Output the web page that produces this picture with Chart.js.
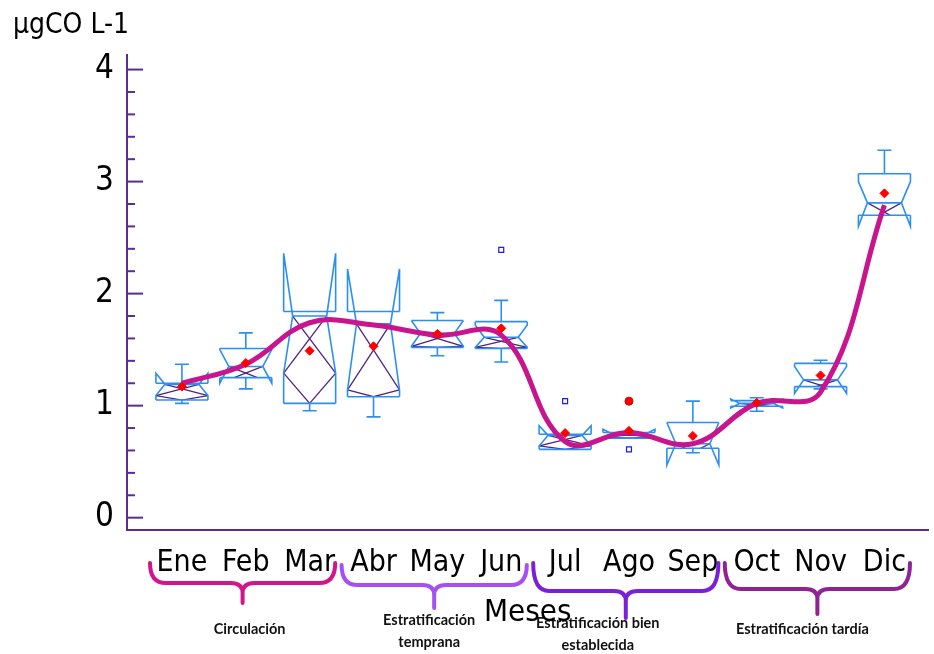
<!DOCTYPE html>
<html>
<head>
<meta charset="utf-8">
<script src="https://cdn.jsdelivr.net/npm/chart.js@4.4.0/dist/chart.umd.min.js"></script>
<style>
  html, body { margin: 0; padding: 0; background: #fff; }
  #wrap { width: 934px; height: 654px; }
</style>
</head>
<body>
<div id="wrap"><canvas id="chart" width="934" height="654"></canvas></div>
<script>
// Data
const months = ['Ene', 'Feb', 'Mar', 'Abr', 'May', 'Jun', 'Jul', 'Ago', 'Sep', 'Oct', 'Nov', 'Dic'];
const boxMin    = [1.02, 1.15, 0.955, 0.90, 1.445, 1.39, 0.61, 0.71, 0.58, 0.95, 1.15, 2.70];
const boxQ1     = [1.05, 1.25, 1.02, 1.08, 1.52, 1.51, 0.61, 0.71, 0.62, 0.995, 1.17, 2.70];
const boxMedian = [1.19, 1.35, 1.80, 1.73, 1.645, 1.61, 0.735, 0.75, 0.66, 1.02, 1.23, 2.81];
const boxQ3     = [1.20, 1.51, 1.84, 1.84, 1.76, 1.75, 0.745, 0.76, 0.85, 1.045, 1.377, 3.07];
const boxMax    = [1.37, 1.65, 1.84, 1.84, 1.83, 1.94, 0.745, 0.76, 1.04, 1.07, 1.405, 3.28];
const notchLow  = [1.09, 1.20, 1.29, 1.14, 1.53, 1.52, 0.64, 0.72, 0.47, 0.98, 1.11, 2.60];
const notchHigh = [1.29, 1.50, 2.36, 2.22, 1.76, 1.72, 0.82, 0.79, 0.85, 1.06, 1.35, 3.00];
const means     = [1.17, 1.38, 1.49, 1.53, 1.64, 1.69, 0.755, 0.775, 0.73, 1.025, 1.27, 2.895];
const trend     = [1.20, 1.37, 1.74, 1.72, 1.63, 1.63, 0.68, 0.76, 0.66, 1.02, 1.12, 2.79];

const outlierMonth = [6, 7, 8];
const outlierValue = [2.39, 1.04, 0.61];
const farOutlierMonth = [8];
const farOutlierValue = [1.04];

const yTicks = [0, 1, 2, 3, 4];
const yMinorTicks = [0.2, 0.4, 0.6, 0.8, 1.2, 1.4, 1.6, 1.8, 2.2, 2.4, 2.6, 2.8, 3.2, 3.4, 3.6, 3.8];

const seasons = ['Circulación', 'Estratificación\ntemprana', 'Estratificación bien\nestablecida', 'Estratificación tardía'];
const seasonStart = [1, 4, 7, 10];
const seasonEnd = [3, 6, 9, 12];

// Styles
const AXIS = '#5c2d91';
const BOX_BLUE = '#2b8ff2';
const CROSS = '#4e2380';
const CURVE = '#c8158e';
const braceColors = ['#d0168a', '#a64ff5', '#7b20d6', '#8f2393'];
const braceLevels = [[563, 583, 603], [565, 585, 608], [563, 591, 618], [563, 589, 614]];
const seasonTextDx = [7, -5, -28, -15];
const seasonTextY = [629, 620, 623, 629];
const NARROW = "'Liberation Sans Narrow', 'DejaVu Sans Condensed', 'Arial Narrow', sans-serif";

const BOX_HALF = 26;
const INSET = 9;
const CAP = 7;

function line(ctx, x1, y1, x2, y2) {
    ctx.beginPath();
    ctx.moveTo(x1, y1);
    ctx.lineTo(x2, y2);
    ctx.stroke();
}

// Notched boxes, drawn under the datasets
const boxPlugin = {
    id: 'notchedBoxes',
    beforeDatasetsDraw(chart) {
        const { ctx } = chart;
        const x = chart.scales.x, y = chart.scales.y;
        ctx.save();
        months.forEach((m, i) => {
            const cx = x.getPixelForValue(i + 1);
            const L = cx - BOX_HALF, R = cx + BOX_HALF;
            const pMin = y.getPixelForValue(boxMin[i]);
            const pQ1 = y.getPixelForValue(boxQ1[i]);
            const pMed = y.getPixelForValue(boxMedian[i]);
            const pQ3 = y.getPixelForValue(boxQ3[i]);
            const pMax = y.getPixelForValue(boxMax[i]);
            const pLo = y.getPixelForValue(notchLow[i]);
            const pHi = y.getPixelForValue(notchHigh[i]);

            // purple diagonals inside the box
            ctx.save();
            ctx.beginPath();
            ctx.rect(L, pQ3, R - L, pQ1 - pQ3);
            ctx.clip();
            ctx.strokeStyle = CROSS;
            ctx.lineWidth = 1.3;
            line(ctx, L + INSET, pMed, R, pLo);
            line(ctx, R - INSET, pMed, L, pLo);
            line(ctx, L, pLo, cx, pQ1);
            line(ctx, R, pLo, cx, pQ1);
            ctx.restore();

            ctx.strokeStyle = BOX_BLUE;
            ctx.lineWidth = 1.6;
            ctx.beginPath();
            ctx.moveTo(L, pQ3); ctx.lineTo(R, pQ3);
            ctx.moveTo(L, pQ1); ctx.lineTo(R, pQ1);
            ctx.moveTo(L, pQ3); ctx.lineTo(L, pHi); ctx.lineTo(L + INSET, pMed); ctx.lineTo(L, pLo); ctx.lineTo(L, pQ1);
            ctx.moveTo(R, pQ3); ctx.lineTo(R, pHi); ctx.lineTo(R - INSET, pMed); ctx.lineTo(R, pLo); ctx.lineTo(R, pQ1);
            ctx.moveTo(L + INSET, pMed); ctx.lineTo(R - INSET, pMed);
            // whiskers
            ctx.moveTo(cx, pQ3); ctx.lineTo(cx, pMax);
            ctx.moveTo(cx - CAP, pMax); ctx.lineTo(cx + CAP, pMax);
            ctx.moveTo(cx, pQ1); ctx.lineTo(cx, pMin);
            ctx.moveTo(cx - CAP, pMin); ctx.lineTo(cx + CAP, pMin);
            ctx.stroke();
        });
        ctx.restore();
    },
    afterDraw(chart) {
        const { ctx, chartArea } = chart;
        const x = chart.scales.x, y = chart.scales.y;
        ctx.save();

        // y tick marks drawn inside the plot
        ctx.strokeStyle = AXIS;
        ctx.lineWidth = 2;
        yTicks.forEach(v => line(ctx, chartArea.left, y.getPixelForValue(v), chartArea.left + 16, y.getPixelForValue(v)));
        yMinorTicks.forEach(v => line(ctx, chartArea.left, y.getPixelForValue(v), chartArea.left + 8, y.getPixelForValue(v)));

        // y unit
        ctx.fillStyle = '#000';
        ctx.font = '28px ' + NARROW;
        ctx.textAlign = 'left';
        ctx.textBaseline = 'alphabetic';
        ctx.fillText('µgCO L-1', 13, 33);

        // braces and season names
        ctx.lineWidth = 4;
        ctx.lineCap = 'round';
        ctx.lineJoin = 'round';
        seasons.forEach((name, i) => {
            const x1 = x.getPixelForValue(seasonStart[i] - 0.5);
            const x2 = x.getPixelForValue(seasonEnd[i] + 0.4);
            const xc = (x1 + x2) / 2;
            const [yTop, yMid, yTip] = braceLevels[i];
            ctx.strokeStyle = braceColors[i];
            ctx.beginPath();
            ctx.moveTo(x1, yTop);
            ctx.quadraticCurveTo(x1, yMid, x1 + 16, yMid);
            ctx.lineTo(xc - 12, yMid);
            ctx.quadraticCurveTo(xc, yMid, xc, yMid + 10);
            ctx.lineTo(xc, yTip);
            ctx.moveTo(xc, yMid + 10);
            ctx.quadraticCurveTo(xc, yMid, xc + 12, yMid);
            ctx.lineTo(x2 - 16, yMid);
            ctx.quadraticCurveTo(x2, yMid, x2, yTop);
            ctx.stroke();

            ctx.fillStyle = '#111';
            ctx.font = 'bold 14.5px Lato, sans-serif';
            ctx.textAlign = 'center';
            ctx.textBaseline = 'middle';
            name.split('\n').forEach((part, k) => {
                ctx.fillText(part, xc + seasonTextDx[i], seasonTextY[i] + k * 22);
            });
        });

        // x title
        ctx.fillStyle = '#000';
        ctx.font = '31px ' + NARROW;
        ctx.textAlign = 'center';
        ctx.textBaseline = 'alphabetic';
        ctx.fillText('Meses', (chartArea.left + chartArea.right) / 2, 621);
        ctx.restore();
    }
};

const ctx = document.getElementById('chart');
new Chart(ctx, {
    type: 'line',
    data: {
        datasets: [{
            label: 'Tendencia',
            data: months.map((m, i) => ({ x: i + 1, y: trend[i] })),
            borderColor: CURVE,
            borderWidth: 5,
            tension: 0.4,
            pointRadius: 0,
            fill: false,
            order: 3
        }, {
            label: 'Media',
            data: months.map((m, i) => ({ x: i + 1, y: means[i] })),
            showLine: false,
            pointStyle: 'rectRot',
            pointRadius: 4.5,
            backgroundColor: '#ff0000',
            borderColor: '#ff0000',
            borderWidth: 1,
            order: 2
        }, {
            label: 'Atípicos',
            data: outlierMonth.map((m, i) => ({ x: m, y: outlierValue[i] })),
            showLine: false,
            pointStyle: 'rect',
            pointRadius: 3.5,
            backgroundColor: 'rgba(255,255,255,0)',
            borderColor: '#1a1aff',
            borderWidth: 1.2,
            order: 1
        }, {
            label: 'Atípicos lejanos',
            data: farOutlierMonth.map((m, i) => ({ x: m, y: farOutlierValue[i] })),
            showLine: false,
            pointStyle: 'circle',
            pointRadius: 4,
            backgroundColor: '#ff0000',
            borderColor: '#d00000',
            borderWidth: 1,
            order: 0
        }]
    },
    options: {
        responsive: false,
        animation: false,
        layout: { padding: { top: 55, right: 4, left: 0, bottom: 0 } },
        plugins: {
            legend: { display: false },
            tooltip: { enabled: false }
        },
        scales: {
            x: {
                type: 'linear',
                min: 0.14,
                max: 12.69,
                afterBuildTicks: s => { s.ticks = months.map((m, i) => ({ value: i + 1 })); },
                afterFit: s => { s.height = 124; },
                grid: { display: false, drawTicks: false },
                border: { color: AXIS, width: 2 },
                ticks: {
                    callback: v => months[v - 1],
                    color: '#000',
                    font: { family: NARROW, size: 30 },
                    padding: 15,
                    maxRotation: 0,
                    autoSkip: false
                }
            },
            y: {
                min: -0.11,
                max: 4.13,
                afterBuildTicks: s => { s.ticks = yTicks.map(v => ({ value: v })); },
                afterFit: s => { s.width = 127; },
                grid: { display: false, drawTicks: false },
                border: { color: AXIS, width: 2 },
                ticks: {
                    color: '#000',
                    font: { family: NARROW, size: 33, lineHeight: 1 },
                    padding: 13
                }
            }
        }
    },
    plugins: [boxPlugin]
});
</script>
</body>
</html>
